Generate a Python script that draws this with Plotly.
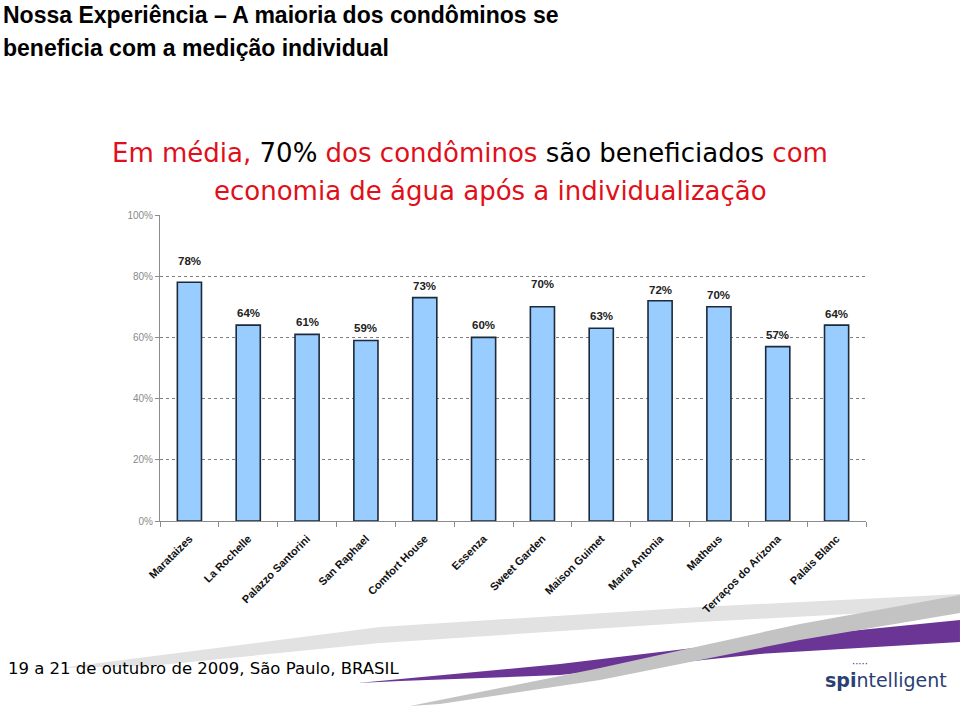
import plotly.graph_objects as go

categories = ["Marataizes", "La Rochelle", "Palazzo Santorini", "San Raphael",
              "Comfort House", "Essenza", "Sweet Garden", "Maison Guimet",
              "Maria Antonia", "Matheus", "Terraços do Arizona", "Palais Blanc"]
values = [78, 64, 61, 59, 73, 60, 70, 63, 72, 70, 57, 64]
label_shift = [21, 12, 12, 12, 12, 12, 23, 12, 11, 12, 12, 11]
y_ticks = [0, 20, 40, 60, 80, 100]
y_tick_labels = ["0%", "20%", "40%", "60%", "80%", "100%"]

W, H = 960, 708
L, R, T, B = 160, 866, 215, 521


def px(x):
    return (x - L) / (R - L)


def py(y):
    return (B - y) / (B - T)


def path(points):
    s = "M " + " L ".join(f"{px(x):.4f},{py(y):.4f}" for x, y in points) + " Z"
    return s


fig = go.Figure()
fig.add_trace(go.Bar(
    x=categories, y=values,
    marker=dict(color="#99ccff", line=dict(color="#1c2a3a", width=1.6)),
    hoverinfo="skip",
))

annotations = []
for c, v, s in zip(categories, values, label_shift):
    annotations.append(dict(
        x=c, y=v, xref="x", yref="y", text=f"{v}%", showarrow=False,
        yshift=s, font=dict(family="Liberation Sans, Arial", size=11.5, color="#222222", weight="bold"),
    ))

# Title
annotations.append(dict(
    x=px(1), y=py(15), xref="paper", yref="paper",
    xanchor="left", yanchor="middle", align="left", showarrow=False,
    text="Nossa Experiência – A maioria dos condôminos se",
    font=dict(family="Liberation Sans, Arial", size=23, color="#000000", weight="bold"),
))
annotations.append(dict(
    x=px(1), y=py(48), xref="paper", yref="paper",
    xanchor="left", yanchor="middle", align="left", showarrow=False,
    text="beneficia com a medição individual",
    font=dict(family="Liberation Sans, Arial", size=23, color="#000000", weight="bold"),
))
red = "#e0101a"
annotations.append(dict(
    x=px(470), y=py(153), xref="paper", yref="paper", xanchor="center", yanchor="middle",
    showarrow=False,
    text=(f"<span style='color:{red}'>Em média, </span>"
          "<span style='color:#000000'>70% </span>"
          f"<span style='color:{red}'>dos condôminos </span>"
          "<span style='color:#000000'>são beneficiados </span>"
          f"<span style='color:{red}'>com</span>"),
    font=dict(family="DejaVu Sans, Verdana", size=26, color=red),
))
annotations.append(dict(
    x=px(490), y=py(191), xref="paper", yref="paper", xanchor="center", yanchor="middle",
    showarrow=False, text="economia de água após a individualização",
    font=dict(family="DejaVu Sans, Verdana", size=26, color=red),
))
# Footer
annotations.append(dict(
    x=px(6), y=py(668), xref="paper", yref="paper", xanchor="left", yanchor="middle",
    showarrow=False, text="19 a 21 de outubro de 2009, São Paulo, BRASIL",
    font=dict(family="DejaVu Sans, Verdana", size=16.5, color="#000000"),
))
annotations.append(dict(
    x=px(886), y=py(680), xref="paper", yref="paper", xanchor="center", yanchor="middle",
    showarrow=False,
    text="<b>spi</b>ntelligent",
    font=dict(family="DejaVu Sans, Verdana", size=19, color="#2b3f72"),
))
annotations.append(dict(
    x=px(850), y=py(663), xref="paper", yref="paper", xanchor="left", yanchor="middle",
    showarrow=False, text="·····",
    font=dict(family="DejaVu Sans, Verdana", size=10, color="#2b3f72"),
))

shapes = [
    dict(type="path", xref="paper", yref="paper", layer="below", line=dict(width=0),
         fillcolor="#e2e2e2",
         path=path([(60, 668), (380, 627), (700, 607), (960, 594), (960, 608), (700, 622), (380, 643), (150, 666)])),
    dict(type="path", xref="paper", yref="paper", layer="below", line=dict(width=0),
         fillcolor="#6a3594",
         path=path([(358, 683), (560, 664), (760, 640), (960, 620), (960, 642), (760, 654), (560, 675), (400, 681)])),
    dict(type="path", xref="paper", yref="paper", layer="below", line=dict(width=0),
         fillcolor="#c3c3c3",
         path=path([(410, 706), (600, 668), (800, 624), (960, 595), (960, 613), (800, 640), (600, 680), (440, 704)])),
]

fig.update_layout(
    width=W, height=H,
    margin=dict(l=L, r=W - R, t=T, b=H - B, pad=0),
    paper_bgcolor="#ffffff", plot_bgcolor="#ffffff",
    showlegend=False, bargap=0.59,
    annotations=annotations, shapes=shapes,
    font=dict(family="Liberation Sans, Arial"),
)
fig.update_xaxes(
    type="category", showline=True, linecolor="#8c8c8c", linewidth=1,
    ticks="outside", tickson="boundaries", ticklen=5, tickcolor="#8c8c8c",
    tickangle=-45, showgrid=False, zeroline=False, ticklabelstandoff=6,
    tickfont=dict(family="Liberation Sans, Arial", size=11, color="#111111", weight="bold"),
)
fig.update_yaxes(
    range=[0, 100], tickvals=y_ticks, ticktext=y_tick_labels,
    showline=True, linecolor="#8c8c8c", linewidth=1,
    ticks="outside", ticklen=4, tickcolor="#8c8c8c",
    showgrid=True, gridcolor="#7f7f7f", griddash="dot", gridwidth=1,
    zeroline=False,
    tickfont=dict(family="Liberation Sans, Arial", size=10, color="#8a8a8a"),
)

fig.write_html("out.html", config={"displayModeBar": False},
               post_script="document.body.style.margin='0';document.body.style.padding='0';")
